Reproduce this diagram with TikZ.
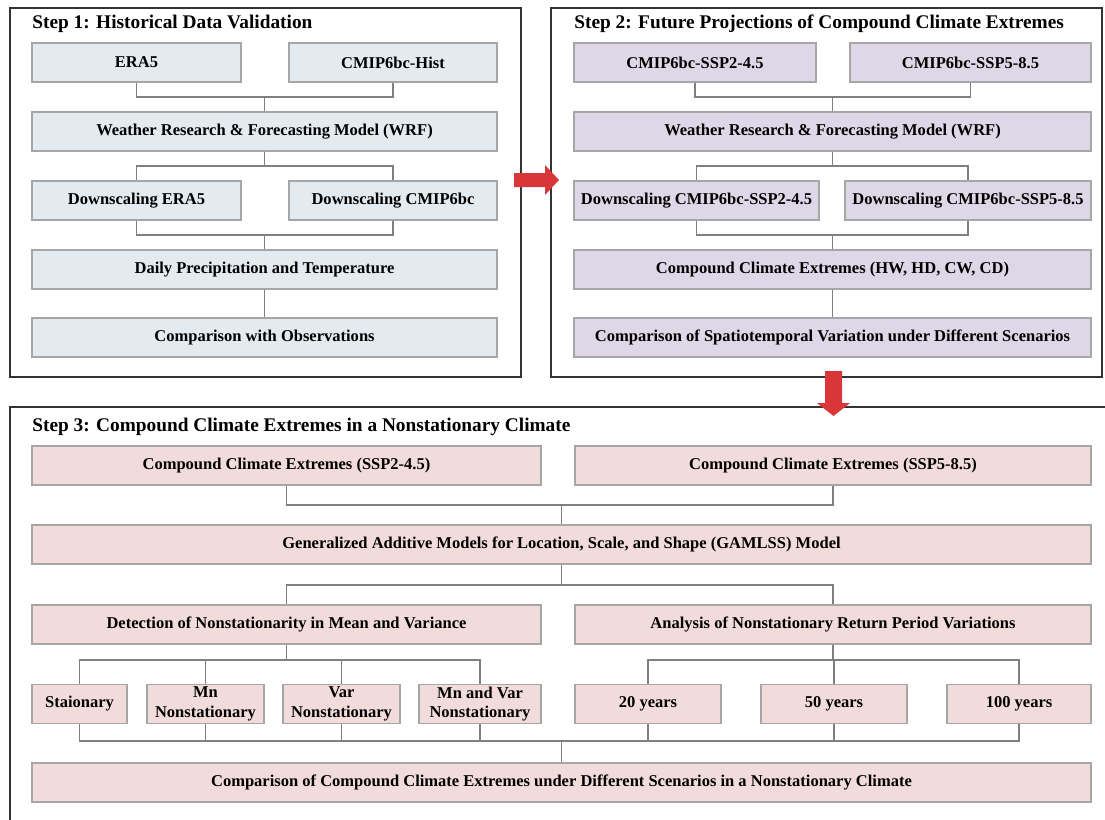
\documentclass[tikz,border=0pt]{standalone}
\usepackage{fontspec}
\setmainfont{Liberation Serif}
\usepackage{tikz}
\usetikzlibrary{arrows.meta, positioning, calc}
\definecolor{histblue}{HTML}{E3EBF0}
\definecolor{futlilac}{HTML}{DED7E7}
\definecolor{nonpink}{HTML}{F2DCDB}
\definecolor{boxline}{HTML}{A6A6A6}
\definecolor{linkgray}{HTML}{7F7F7F}
\definecolor{arrowred}{HTML}{D9363A}

\tikzset{
    stepbox/.style={draw=boxline, line width=0.7pt, inner sep=0pt, align=center,
        minimum height=0.78cm, font=\bfseries\fontsize{9.4}{11.3}\selectfont},
    histbox/.style={stepbox, fill=histblue},
    futbox/.style={stepbox, fill=futlilac},
    nonbox/.style={stepbox, fill=nonpink},
    span/.style 2 args={minimum width={(#2-#1)*0.02cm}},
    steptitle/.style={anchor=west, inner sep=0pt, font=\bfseries\fontsize{11}{13}\selectfont},
    link/.style={draw=linkgray, line width=0.7pt},
    frame/.style={draw=black!80, line width=0.7pt}
}

\begin{document}
\begin{tikzpicture}[x=0.02cm, y=-0.02cm]
    \useasboundingbox (0,0) rectangle (1105,819);
    % Frames
    \draw[frame] (10,8) rectangle (521,377);
    \draw[frame] (551,8) rectangle (1102,377);
    \draw[frame] (10,830) -- (10,407) -- (1115,407);
    % Step 1
    \node[steptitle] (t1) at (32,23.5) {Step 1: Historical Data Validation};
    \node[histbox, span={32}{241}] (era) at (136.5,62.5) {ERA5};
    \node[histbox, span={289}{497}] (hist) at (393,62.5) {CMIP6bc-Hist};
    \node[histbox, span={32}{497}] (wrf1) at (264.5,131.5) {Weather Research \& Forecasting Model (WRF)};
    \node[histbox, span={32}{241}] (dera) at (136.5,200.5) {Downscaling ERA5};
    \node[histbox, span={289}{497}] (dcmip) at (393,200.5) {Downscaling CMIP6bc};
    \node[histbox, span={32}{497}] (daily) at (264.5,269.5) {Daily Precipitation and Temperature};
    \node[histbox, span={32}{497}] (obs) at (264.5,337.5) {Comparison with Observations};
    \draw[link] (era.south) -- (era.south |- 0,97) -| (hist.south);
    \draw[link] (wrf1.north) -- (wrf1.north |- 0,97);
    \draw[link] (wrf1.south) -- (wrf1.south |- 0,166);
    \draw[link] (dera.north) -- (dera.north |- 0,166) -| (dcmip.north);
    \draw[link] (dera.south) -- (dera.south |- 0,235) -| (dcmip.south);
    \draw[link] (daily.north) -- (daily.north |- 0,235);
    \draw[link] (daily.south) -- (obs.north);
    % Step 2
    \node[steptitle] (t2) at (574,23.5) {Step 2: Future Projections of Compound Climate Extremes};
    \node[futbox, span={574}{816}] (ssp2) at (695,62.5) {CMIP6bc-SSP2-4.5};
    \node[futbox, span={850}{1091}] (ssp5) at (970.5,62.5) {CMIP6bc-SSP5-8.5};
    \node[futbox, span={574}{1091}] (wrf2) at (832.5,131.5) {Weather Research \& Forecasting Model (WRF)};
    \node[futbox, span={574}{819}] (dssp2) at (696.5,200.5) {Downscaling CMIP6bc-SSP2-4.5};
    \node[futbox, span={845}{1091}] (dssp5) at (968,200.5) {Downscaling CMIP6bc-SSP5-8.5};
    \node[futbox, span={574}{1091}] (cce) at (832.5,269.5) {Compound Climate Extremes (HW, HD, CW, CD)};
    \node[futbox, span={574}{1091}] (spt) at (832.5,337.5) {Comparison of Spatiotemporal Variation under Different Scenarios};
    \draw[link] (ssp2.south) -- (ssp2.south |- 0,97) -| (ssp5.south);
    \draw[link] (wrf2.north) -- (wrf2.north |- 0,97);
    \draw[link] (wrf2.south) -- (wrf2.south |- 0,166);
    \draw[link] (dssp2.north) -- (dssp2.north |- 0,166) -| (dssp5.north);
    \draw[link] (dssp2.south) -- (dssp2.south |- 0,235) -| (dssp5.south);
    \draw[link] (cce.north) -- (cce.north |- 0,235);
    \draw[link] (cce.south) -- (spt.north);
    % Arrows between steps
    \fill[arrowred] (514,173) -- (545,173) -- (545,165) -- (559,180) -- (545,195) -- (545,187) -- (514,187) -- cycle;
    \fill[arrowred] (825,371) -- (842,371) -- (842,403) -- (850,403) -- (833.5,416) -- (817,403) -- (825,403) -- cycle;
    % Step 3
    \node[steptitle] (t3) at (32,426.5) {Step 3: Compound Climate Extremes in a Nonstationary Climate};
    \node[nonbox, span={32}{541}] (c245) at (286.5,465.5) {Compound Climate Extremes (SSP2-4.5)};
    \node[nonbox, span={575}{1091}] (c585) at (833,465.5) {Compound Climate Extremes (SSP5-8.5)};
    \node[nonbox, span={32}{1091}] (gam) at (561.5,544.5) {Generalized Additive Models for Location, Scale, and Shape (GAMLSS) Model};
    \node[nonbox, span={32}{541}] (det) at (286.5,624.5) {Detection of Nonstationarity in Mean and Variance};
    \node[nonbox, span={575}{1091}] (ana) at (833,624.5) {Analysis of Nonstationary Return Period Variations};
    \node[nonbox, span={32}{127}] (sta) at (79.5,704) {Staionary};
    \node[nonbox, span={147}{264}] (mn) at (205.5,704) {Mn\\Nonstationary};
    \node[nonbox, span={283}{400}] (var) at (341.5,704) {Var\\Nonstationary};
    \node[nonbox, span={419}{541}] (mnvar) at (480,704) {Mn and Var\\Nonstationary};
    \node[nonbox, span={575}{721}] (y20) at (648,704) {20 years};
    \node[nonbox, span={761}{907}] (y50) at (834,704) {50 years};
    \node[nonbox, span={947}{1091}] (y100) at (1019,704) {100 years};
    \node[nonbox, span={32}{1091}] (fin) at (561.5,782.5) {Comparison of Compound Climate Extremes under Different Scenarios in a Nonstationary Climate};
    \draw[link] (c245.south) -- (c245.south |- 0,505) -| (c585.south);
    \draw[link] (gam.north) -- (gam.north |- 0,505);
    \draw[link] (gam.south) -- (gam.south |- 0,585);
    \draw[link] (det.north) -- (det.north |- 0,585) -| (ana.north);
    \draw[link] (det.south) -- (det.south |- 0,660);
    \draw[link] (sta.north) -- (sta.north |- 0,660) -| (mnvar.north);
    \foreach \n in {mn,var} {
        \draw[link] (\n.north) -- (\n.north |- 0,660);
    }
    \draw[link] (ana.south) -- (ana.south |- 0,660);
    \draw[link] (y20.north) -- (y20.north |- 0,660) -| (y100.north);
    \draw[link] (y50.north) -- (y50.north |- 0,660);
    % Merge into final comparison
    \draw[link] (sta.south) -- (sta.south |- 0,741) -| (y100.south);
    \foreach \n in {mn,var,mnvar,y20,y50} {
        \draw[link] (\n.south) -- (\n.south |- 0,741);
    }
    \draw[link] (fin.north) -- (fin.north |- 0,741);
\end{tikzpicture}
\end{document}
